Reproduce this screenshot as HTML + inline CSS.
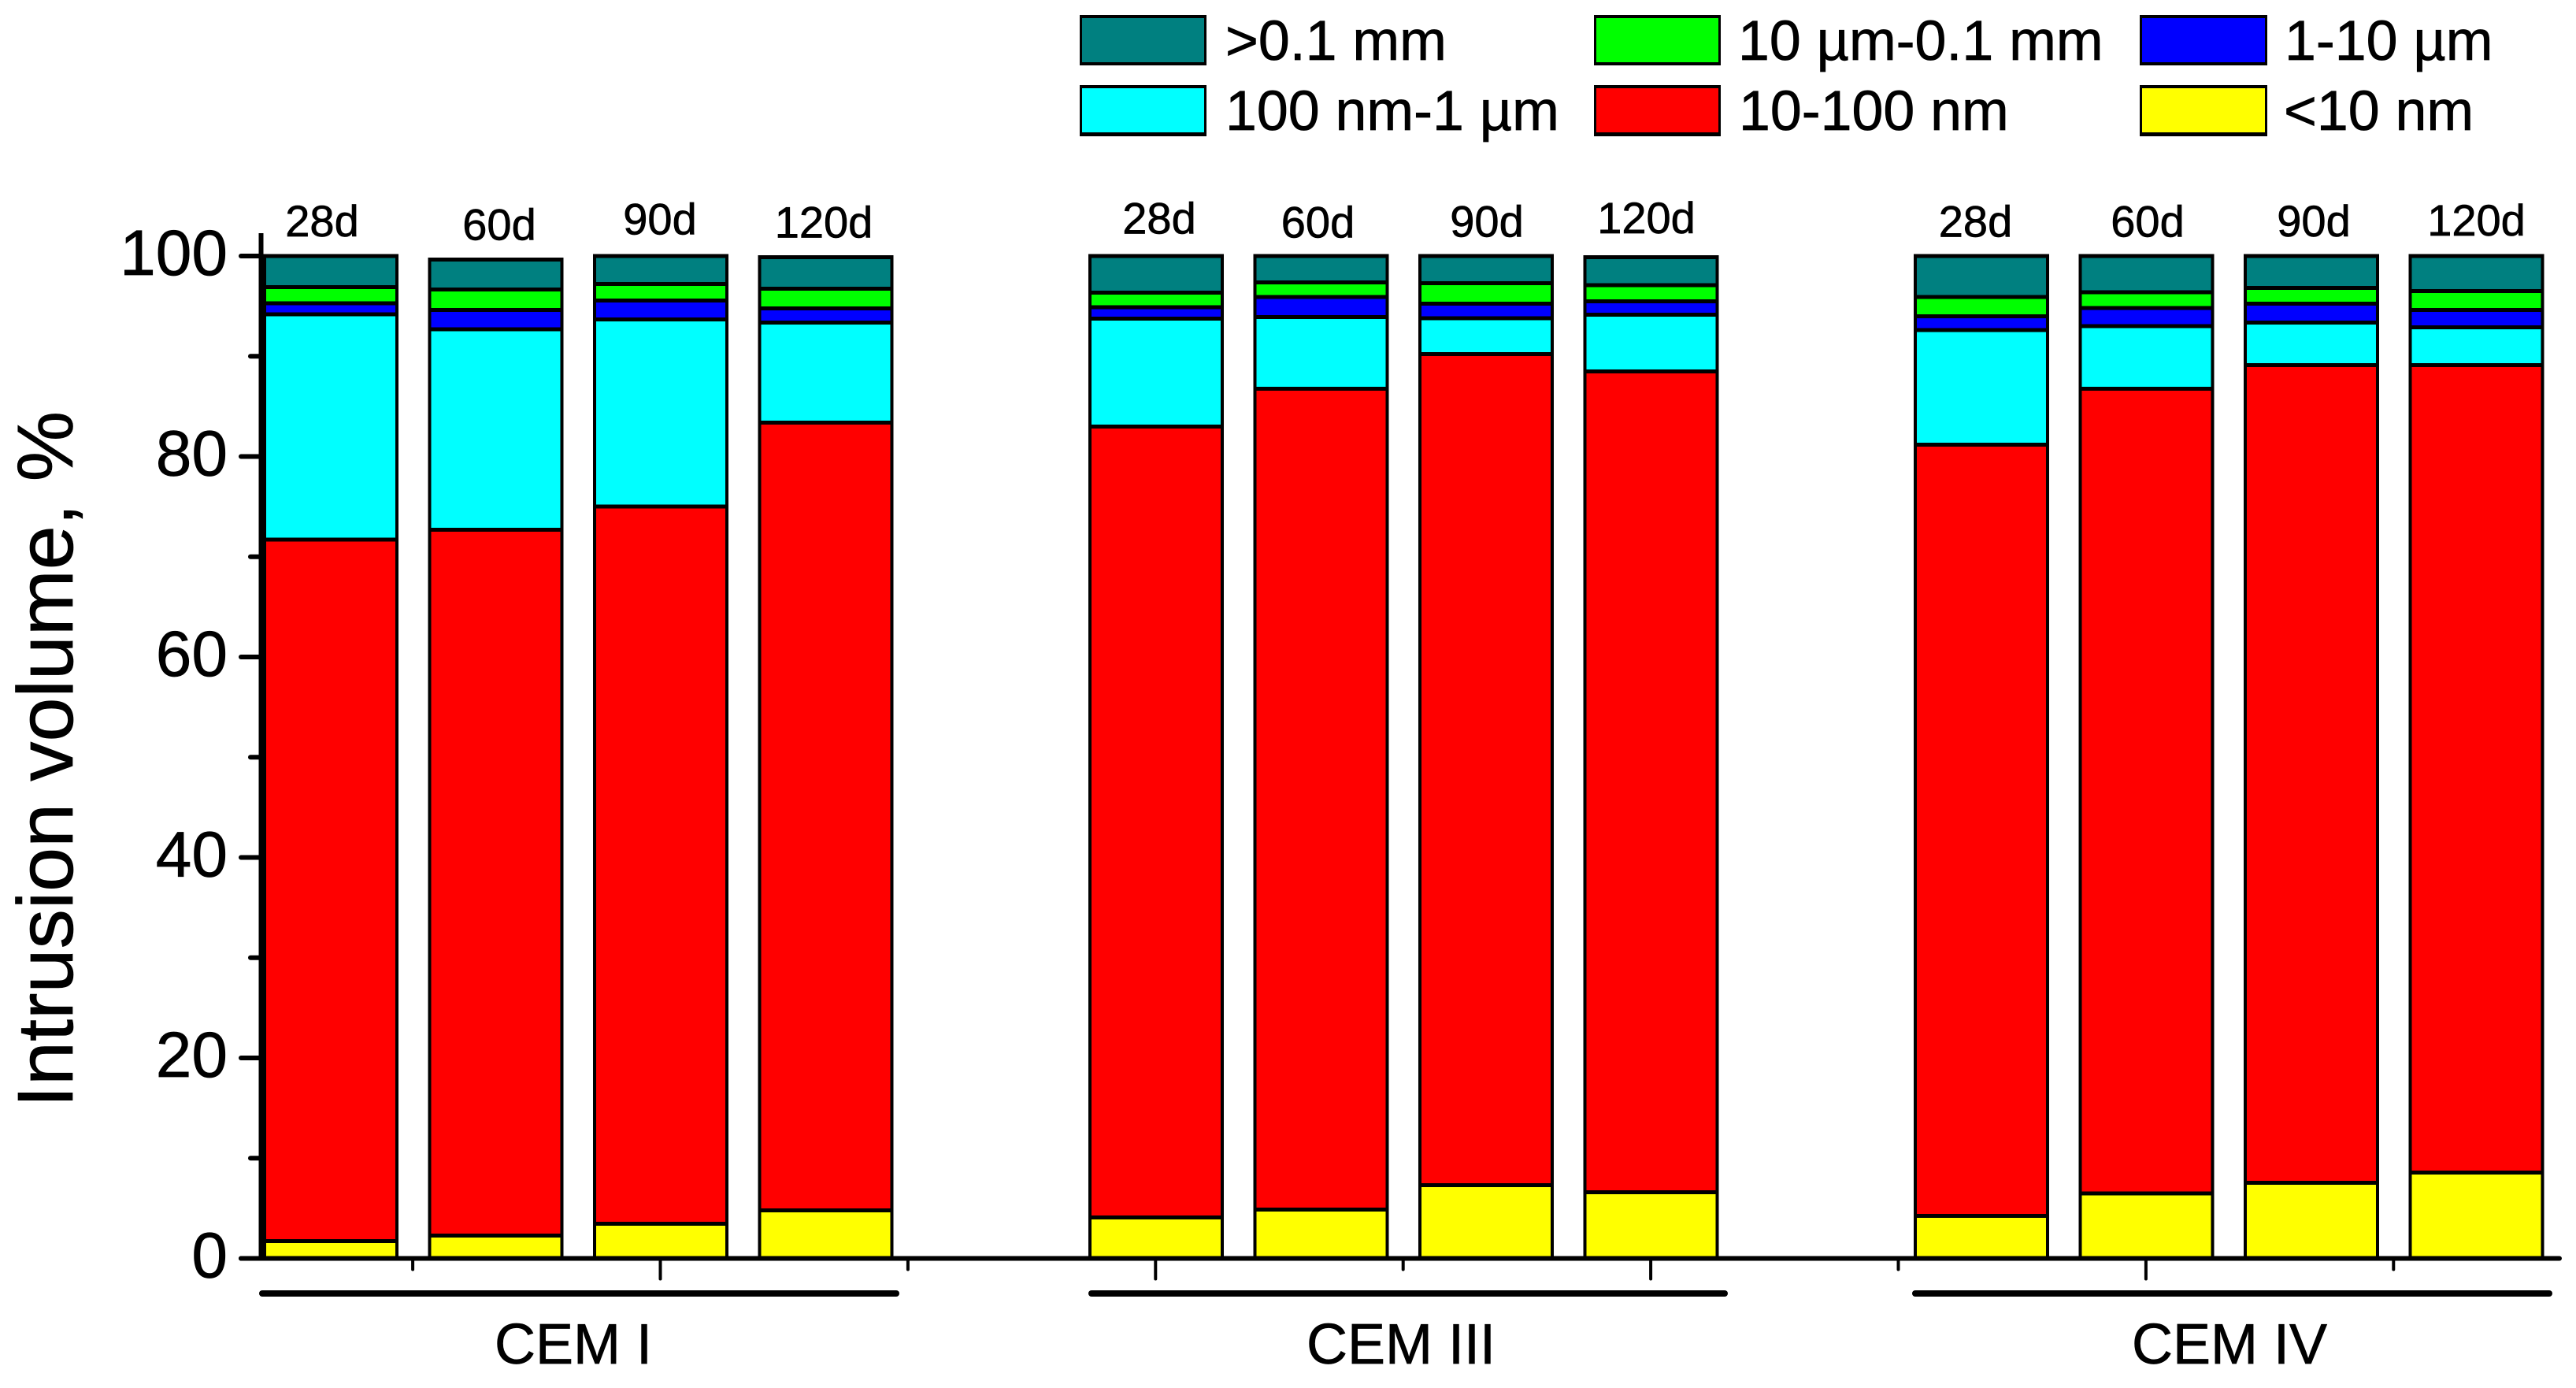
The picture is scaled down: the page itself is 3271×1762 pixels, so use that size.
<!DOCTYPE html>
<html lang="en">
<head>
<meta charset="utf-8">
<title>Intrusion volume by pore size range</title>
<style>
html,body{margin:0;padding:0;background:#fff;}
svg{display:block;}
text{font-family:"Liberation Sans",Arial,sans-serif;fill:#000;stroke:#000;stroke-width:0.7px;}
</style>
</head>
<body>
<svg id="chart" xmlns="http://www.w3.org/2000/svg" width="3271" height="1762" viewBox="0 0 3271 1762">
  <rect x="0" y="0" width="3271" height="1762" fill="#fff"/>
  <g id="bars"></g>
  <g id="axes"></g>

  <text transform="translate(92,1406) rotate(-90)" font-size="100.7">Intrusion volume, %</text>

  <g font-size="56" text-anchor="middle">
    <text x="409" y="300">28d</text>
    <text x="634" y="304.7">60d</text>
    <text x="838" y="297.7">90d</text>
    <text x="1046" y="301.7">120d</text>
    <text x="1472" y="296.7">28d</text>
    <text x="1673.5" y="301.7">60d</text>
    <text x="1888" y="300.7">90d</text>
    <text x="2090.5" y="296">120d</text>
    <text x="2508.5" y="300.7">28d</text>
    <text x="2727" y="300.7">60d</text>
    <text x="2938" y="300">90d</text>
    <text x="3144.5" y="299">120d</text>
  </g>

  <g>
    <line x1="333" y1="1642" x2="1138" y2="1642" stroke="#000" stroke-width="8" stroke-linecap="round"/>
    <line x1="1386" y1="1642" x2="2190" y2="1642" stroke="#000" stroke-width="8" stroke-linecap="round"/>
    <line x1="2432" y1="1642" x2="3237" y2="1642" stroke="#000" stroke-width="8" stroke-linecap="round"/>
    <text x="628" y="1731" font-size="72">CEM I</text>
    <text x="1659" y="1731" font-size="72">CEM III</text>
    <text x="2707" y="1731" font-size="72">CEM IV</text>
  </g>

  <g font-size="71.7">
    <g>
      <rect x="1371" y="19" width="161" height="64" fill="#000" shape-rendering="crispEdges"/>
      <rect x="1374" y="23" width="155" height="56" fill="#008080" shape-rendering="crispEdges"/>
      <text x="1556" y="76">&gt;0.1 mm</text>
    </g>
    <g>
      <rect x="2024" y="19" width="161" height="64" fill="#000" shape-rendering="crispEdges"/>
      <rect x="2027" y="23" width="155" height="56" fill="#00ff00" shape-rendering="crispEdges"/>
      <text x="2207" y="76">10 µm-0.1 mm</text>
    </g>
    <g>
      <rect x="2717" y="19" width="162" height="64" fill="#000" shape-rendering="crispEdges"/>
      <rect x="2720" y="23" width="156" height="56" fill="#0000ff" shape-rendering="crispEdges"/>
      <text x="2901" y="76">1-10 µm</text>
    </g>
    <g>
      <rect x="1371" y="108" width="161" height="65" fill="#000" shape-rendering="crispEdges"/>
      <rect x="1374" y="112" width="155" height="56" fill="#00ffff" shape-rendering="crispEdges"/>
      <text x="1556" y="165">100 nm-1 µm</text>
    </g>
    <g>
      <rect x="2024" y="108" width="161" height="65" fill="#000" shape-rendering="crispEdges"/>
      <rect x="2027" y="112" width="155" height="56" fill="#ff0000" shape-rendering="crispEdges"/>
      <text x="2208" y="165">10-100 nm</text>
    </g>
    <g>
      <rect x="2717" y="108" width="162" height="65" fill="#000" shape-rendering="crispEdges"/>
      <rect x="2720" y="112" width="156" height="56" fill="#ffff00" shape-rendering="crispEdges"/>
      <text x="2900" y="165">&lt;10 nm</text>
    </g>
  </g>
</svg>
<script>
// Category slots along the x axis; slots 4 and 9 are the empty gaps between cement types.
const categories = ['CEM I 28d','CEM I 60d','CEM I 90d','CEM I 120d','CEM III 28d','CEM III 60d','CEM III 90d','CEM III 120d','CEM IV 28d','CEM IV 60d','CEM IV 90d','CEM IV 120d'];
const slots = [0,1,2,3,5,6,7,8,10,11,12,13];

// Stacked values, percent of intrusion volume, bottom of the stack first.
const under10nm   = [1.74,2.28,3.47,4.78,4.09,4.87,7.30,6.60,4.24,6.50,7.55,8.56];
const nm10to100   = [69.96,70.42,71.53,78.60,78.91,81.88,82.90,81.90,76.94,80.25,81.55,80.54];
const nm100to1um  = [22.50,20.00,18.67,9.98,10.75,7.15,3.60,5.65,11.42,6.25,4.25,3.80];
const um1to10     = [1.10,1.90,1.89,1.41,1.15,2.00,1.45,1.35,1.40,1.80,1.90,1.70];
const um10to01mm  = [1.60,2.05,1.64,1.97,1.45,1.45,2.05,1.60,1.90,1.60,1.55,1.90];
const over01mm    = [3.10,3.00,2.80,3.16,3.65,2.65,2.70,2.80,4.10,3.60,3.20,3.50];

const yTickLabels = [0,20,40,60,80,100];
const yMinorTicks = [10,30,50,70,90];
const xMajorTicks = [2,5,8,11];
const xMinorTicks = [0.5,3.5,6.5,9.5,12.5];

const seriesList = [
  {name:'under-10-nm', values:under10nm,  color:'#ffff00'},
  {name:'10-100-nm',   values:nm10to100,  color:'#ff0000'},
  {name:'100-nm-1-um', values:nm100to1um, color:'#00ffff'},
  {name:'1-10-um',     values:um1to10,    color:'#0000ff'},
  {name:'10-um-0-1-mm',values:um10to01mm, color:'#00ff00'},
  {name:'over-0-1-mm', values:over01mm,   color:'#008080'}
];

const NS = 'http://www.w3.org/2000/svg';
const Y_ZERO = 1597.5, Y_UNIT = 12.725;
const X_START = 419.8, X_STEP = 209.6, BAR_W = 172, BORDER_X = 4, BORDER_Y = 2.5;
function yScale(v){ return Y_ZERO - v * Y_UNIT; }
function xScale(s){ return X_START + s * X_STEP; }

function make(tag, attrs, parent){
  const el = document.createElementNS(NS, tag);
  for (const k in attrs) el.setAttribute(k, attrs[k]);
  parent.appendChild(el);
  return el;
}

const barsLayer = document.getElementById('bars');
const axesLayer = document.getElementById('axes');

categories.forEach(function(cat, i){
  const left = xScale(slots[i]) - BAR_W / 2;
  const group = make('g', {}, barsLayer);
  
  
  let base = 0;
  seriesList.forEach(function(s){
    const top = base + s.values[i];
    const yTop = yScale(top), yBase = base === 0 ? Y_ZERO : yScale(base);
    const border = make('rect', {x:left, y:yTop - BORDER_Y, width:BAR_W, height:Math.max(0, yBase - yTop + BORDER_Y * 2), fill:'#000', 'shape-rendering':'crispEdges'}, group);
    
    
    const fill = make('rect', {x:left + BORDER_X, y:yTop + BORDER_Y, width:BAR_W - BORDER_X * 2, height:Math.max(0, yBase - yTop - BORDER_Y * 2), fill:s.color, 'shape-rendering':'crispEdges'}, group);
    
    
    base = top;
  });
});

const yLine = make('line', {x1:331.5, y1:296, x2:331.5, y2:Y_ZERO, stroke:'#000', 'stroke-width':6}, axesLayer);



const xLine = make('line', {x1:306, y1:Y_ZERO, x2:3250, y2:Y_ZERO, stroke:'#000', 'stroke-width':6, 'stroke-linecap':'round'}, axesLayer);



yTickLabels.forEach(function(v){
  const tick = make('line', {x1:306, y1:yScale(v), x2:330, y2:yScale(v), stroke:'#000', 'stroke-width':6, 'stroke-linecap':'round'}, axesLayer);
  
  
  const label = make('text', {x:289, y:yScale(v) + 24, 'font-size':82, 'text-anchor':'end'}, axesLayer);
  label.textContent = String(v);
  
  
});

yMinorTicks.forEach(function(v){
  const tick = make('line', {x1:318, y1:yScale(v), x2:330, y2:yScale(v), stroke:'#000', 'stroke-width':6, 'stroke-linecap':'round'}, axesLayer);
  
  
});

xMajorTicks.forEach(function(s){
  const tick = make('line', {x1:xScale(s) - 0.5, y1:1600, x2:xScale(s) - 0.5, y2:1623.5, stroke:'#000', 'stroke-width':4, 'stroke-linecap':'round'}, axesLayer);
  
  
});

xMinorTicks.forEach(function(s){
  const tick = make('line', {x1:xScale(s) - 0.5, y1:1600, x2:xScale(s) - 0.5, y2:1611.5, stroke:'#000', 'stroke-width':4, 'stroke-linecap':'round'}, axesLayer);
  
  
});
</script>
</body>
</html>
